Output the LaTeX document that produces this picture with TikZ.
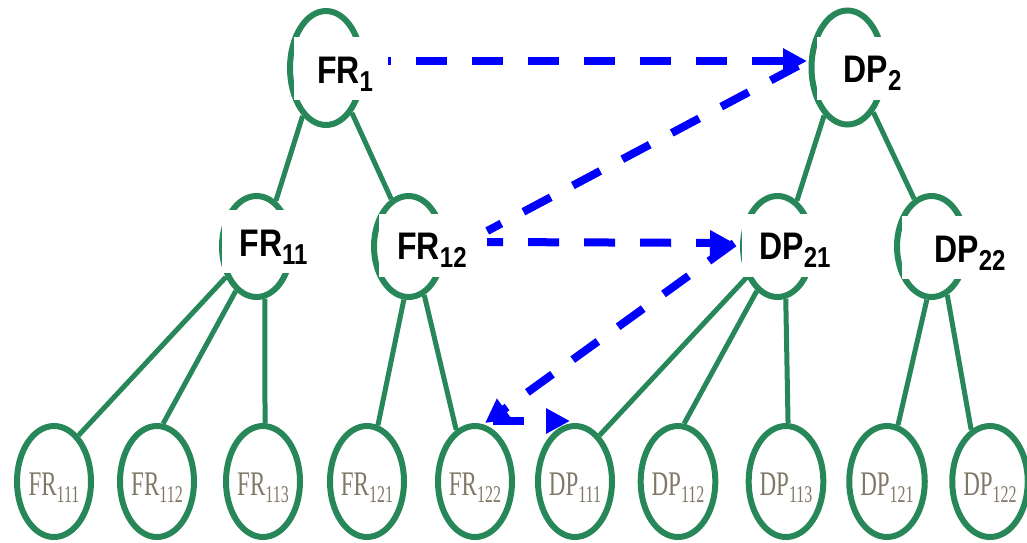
\documentclass[tikz,border=0pt]{standalone}
\usepackage{graphicx}
\usepackage{fontspec}
\setmainfont{Liberation Sans}
\newfontfamily\leaffont{Liberation Serif}
\usetikzlibrary{shapes.geometric,arrows.meta}

\definecolor{treegreen}{RGB}{40,135,88}
\definecolor{leafgray}{RGB}{128,120,102}
\definecolor{flowblue}{RGB}{0,0,255}

% bold requirement / parameter tag with subscript index
\newcommand\boldlabel[2]{\raisebox{-14.5pt}[0pt][0pt]{\kern8pt\scalebox{1}[1.2]{\fontsize{32}{32}\selectfont\bfseries #1\raisebox{-7pt}{\fontsize{24}{24}\selectfont #2}}}}
% light serif label inside the lowest-level ellipses
\newcommand\leaflabel[2]{\raisebox{-13.5pt}[0pt][0pt]{\scalebox{1}[1.5]{\leaffont\fontsize{23}{23}\selectfont #1\raisebox{-5pt}{\fontsize{16}{16}\selectfont #2}}}}

\begin{document}
\begin{tikzpicture}[x=1pt,y=-1pt,
  treenode/.style={ellipse, draw=treegreen, line width=6pt, inner sep=0pt},
  topnode/.style={treenode, minimum width=72pt, minimum height=114pt},
  midnode/.style={treenode, minimum width=69pt, minimum height=101pt},
  leafnode/.style={treenode, minimum width=74pt, minimum height=111pt, text=leafgray},
  branch/.style={draw=treegreen, line width=5pt},
  tag/.style={fill=white, inner sep=0pt, minimum height=63pt, text=black},
  flow/.style={draw=flowblue, line width=8pt, dash pattern=on 31pt off 25pt},
  flowhead/.style={flow, -{Triangle[length=24pt,width=24pt]}}
]
\useasboundingbox (0,0) rectangle (1027,542);

% ellipses of the two hierarchies
\node[topnode] (FR1) at (326,68) {};
\node[topnode] (DP2) at (847.5,67.5) {};
\node[midnode] (FR11) at (256.5,246.5) {};
\node[midnode] (FR12) at (408.5,246.5) {};
\node[midnode] (DP21) at (777.5,246.5) {};
\node[midnode] (DP22) at (931.5,246.5) {};

\node[leafnode] (FR111) at (54,481.5)  {\leaflabel{FR}{111}};
\node[leafnode] (FR112) at (157,481.5) {\leaflabel{FR}{112}};
\node[leafnode] (FR113) at (263,481.5) {\leaflabel{FR}{113}};
\node[leafnode] (FR121) at (367,481.5) {\leaflabel{FR}{121}};
\node[leafnode] (FR122) at (475,481.5) {\leaflabel{FR}{122}};
\node[leafnode] (DP111) at (575,481.5) {\leaflabel{DP}{111}};
\node[leafnode] (DP112) at (678,481.5) {\leaflabel{DP}{112}};
\node[leafnode] (DP113) at (786,481.5) {\leaflabel{DP}{113}};
\node[leafnode] (DP121) at (887,481.5) {\leaflabel{DP}{121}};
\node[leafnode] (DP122) at (990,481.5) {\leaflabel{DP}{122}};

% branches
\draw[branch] (FR1.244) -- (FR11.67);
\draw[branch] (FR1.300) -- (FR12.110);
\draw[branch] (DP2.244) -- (DP21.67);
\draw[branch] (DP2.300) -- (DP22.110);

\draw[branch] (FR11.225) -- (FR111.62);
\draw[branch] (FR11.245) -- (FR112.84);
\draw[branch] (FR11.279) -- (FR113.88);
\draw[branch] (FR12.265) -- (FR121.79);
\draw[branch] (FR12.288) -- (FR122.110);

\draw[branch] (DP21.225) -- (DP111.62);
\draw[branch] (DP21.245) -- (DP112.84);
\draw[branch] (DP21.279) -- (DP113.88);
\draw[branch] (DP22.265) -- (DP121.79);
\draw[branch] (DP22.288) -- (DP122.110);

% bold tags on white
\node[tag, minimum width=94pt]  (FR1lab)  at (341,68.5)   {\boldlabel{FR}{1}};
\node[tag, minimum width=103pt] (DP2lab)  at (868.5,68)   {\boldlabel{DP}{2}};
\node[tag, minimum width=95pt]  (FR11lab) at (269.5,241.5) {\boldlabel{FR}{11}};
\node[tag, minimum width=98pt]  (FR12lab) at (428,245)    {\boldlabel{FR}{12}};
\node[tag, minimum width=98pt]  (DP21lab) at (791,245)    {\boldlabel{DP}{21}};
\node[tag, minimum width=128pt] (DP22lab) at (966,247.5)  {\boldlabel{DP}{22}};

% mapping arrows
\draw[flowhead, dash phase=28pt] ([yshift=7.5pt]FR1lab.east) -- ([xshift=-1.5pt,yshift=6.5pt]DP2.west);
\draw[flow, dash phase=15pt] ([xshift=10pt,yshift=14pt]FR12lab.east) -- ([xshift=-6pt,yshift=4pt]DP2.west);
\draw[flowhead, dash phase=15pt] ([xshift=10pt,yshift=3pt]FR12lab.east) -- ([xshift=-6pt,yshift=3.5pt]DP21.west);
\draw[flowhead] ([xshift=-6pt,yshift=3.5pt]DP21.west) -- ([xshift=10pt]FR122.north);
\draw[flowhead] ([xshift=18pt,yshift=2pt]FR122.north) -- ([xshift=-5pt,yshift=2pt]DP111.north);
\end{tikzpicture}
\end{document}
